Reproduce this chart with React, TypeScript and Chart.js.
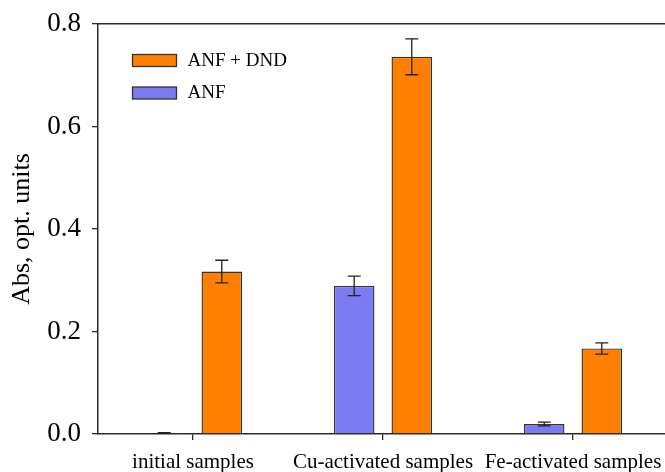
import React, { useEffect, useRef } from "react";
import { Chart, registerables } from "chart.js";

Chart.register(...registerables);

const categories = ["initial samples", "Cu-activated samples", "Fe-activated samples"];
const anfValues = [0.002, 0.289, 0.0195];
const anfErrors = [0.0006, 0.019, 0.0035];
const anfDndValues = [0.317, 0.736, 0.167];
const anfDndErrors = [0.022, 0.035, 0.011];
const yTicks = [0, 0.2, 0.4, 0.6, 0.8];

const seriesNames = ["ANF", "ANF + DND"];
const seriesColors = ["#7b7bf2", "#ff8000"];
const seriesErrors = [anfErrors, anfDndErrors];

const FONT = "'Liberation Serif', 'Times New Roman', serif";
const AXIS_COLOR = "#2a2a2a";

const errorBarPlugin = {
  id: "errorBars",
  afterDatasetsDraw(chart: any) {
    const ctx = chart.ctx;
    const yScale = chart.scales.y;
    ctx.save();
    ctx.strokeStyle = "#222";
    ctx.lineWidth = 1.3;
    chart.data.datasets.forEach((ds: any, di: number) => {
      const meta = chart.getDatasetMeta(di);
      const errs = seriesErrors[di];
      meta.data.forEach((el: any, i: number) => {
        const v = ds.data[i];
        const e = errs[i];
        const x = el.x;
        const yt = yScale.getPixelForValue(v + e);
        const yb = yScale.getPixelForValue(Math.max(0, v - e));
        const cap = 6.5;
        ctx.beginPath();
        ctx.moveTo(x, yt);
        ctx.lineTo(x, yb);
        ctx.moveTo(x - cap, yt);
        ctx.lineTo(x + cap, yt);
        ctx.moveTo(x - cap, yb);
        ctx.lineTo(x + cap, yb);
        ctx.stroke();
      });
    });
    ctx.restore();
  },
};

const legendPlugin = {
  id: "insideLegend",
  afterDraw(chart: any) {
    const ctx = chart.ctx;
    const area = chart.chartArea;
    const order = [1, 0];
    ctx.save();
    ctx.font = `19px ${FONT}`;
    ctx.textBaseline = "middle";
    ctx.textAlign = "left";
    order.forEach((di, k) => {
      const ds = chart.data.datasets[di];
      const bx = area.left + 34.5;
      const by = area.top + 30.5 + k * 32.5;
      ctx.fillStyle = ds.backgroundColor;
      ctx.fillRect(bx, by, 44, 12);
      ctx.strokeStyle = "#333";
      ctx.lineWidth = 1.3;
      ctx.strokeRect(bx, by, 44, 12);
      ctx.fillStyle = "#000";
      ctx.fillText(ds.label, bx + 55, by + 6.5);
    });
    ctx.restore();
  },
};

export default function App() {
  const canvasRef = useRef<HTMLCanvasElement | null>(null);

  useEffect(() => {
    if (!canvasRef.current) return;
    const chart = new Chart(canvasRef.current, {
      type: "bar",
      data: {
        labels: categories,
        datasets: [
          {
            label: seriesNames[0],
            data: anfValues,
            backgroundColor: seriesColors[0],
            borderColor: "#333",
            borderWidth: 1.4,
            categoryPercentage: 0.606,
            barPercentage: 0.704,
          },
          {
            label: seriesNames[1],
            data: anfDndValues,
            backgroundColor: seriesColors[1],
            borderColor: "#333",
            borderWidth: 1.4,
            categoryPercentage: 0.606,
            barPercentage: 0.704,
          },
        ],
      },
      options: {
        responsive: false,
        animation: false,
        layout: { padding: 0 },
        plugins: {
          legend: { display: false },
          tooltip: { enabled: false },
        },
        scales: {
          x: {
            type: "category",
            position: "bottom",
            offset: true,
            grid: {
              display: true,
              offset: false,
              drawOnChartArea: false,
              drawTicks: true,
              tickLength: 6,
              tickColor: AXIS_COLOR,
              lineWidth: 1.3,
            },
            border: { display: true, color: AXIS_COLOR, width: 1.5 },
            ticks: {
              color: "#000",
              padding: 10,
              maxRotation: 0,
              autoSkip: false,
              font: { family: FONT, size: 21 },
            },
            afterFit: (s: any) => {
              s.height = 38;
              s.paddingLeft = 0;
              s.paddingRight = 0;
            },
          },
          xTop: {
            type: "category",
            position: "top",
            grid: { display: false },
            ticks: { display: false },
            border: { display: true, color: AXIS_COLOR, width: 1.5 },
            afterFit: (s: any) => {
              s.height = 24;
              s.paddingLeft = 0;
              s.paddingRight = 0;
            },
          },
          y: {
            type: "linear",
            position: "left",
            min: 0,
            max: 0.8,
            afterBuildTicks: (s: any) => {
              s.ticks = yTicks.map((v) => ({ value: v }));
            },
            grid: {
              display: true,
              drawOnChartArea: false,
              drawTicks: true,
              tickLength: 6,
              tickColor: AXIS_COLOR,
              lineWidth: 1.3,
            },
            border: { display: true, color: AXIS_COLOR, width: 1.5 },
            ticks: {
              color: "#000",
              padding: 11,
              font: { family: FONT, size: 27 },
              callback: (v: any) => Number(v).toFixed(1),
            },
            title: {
              display: true,
              text: "Abs, opt. units",
              color: "#000",
              padding: { top: 7, bottom: 0 },
              font: { family: FONT, size: 26 },
            },
            afterFit: (s: any) => {
              s.width = 98;
              s.paddingTop = 0;
              s.paddingBottom = 0;
            },
          },
        },
      },
      plugins: [errorBarPlugin, legendPlugin],
    });
    return () => chart.destroy();
  }, []);

  return (
    <div
      style={{
        position: "fixed",
        left: 0,
        top: 0,
        width: 665,
        height: 472,
        overflow: "hidden",
        background: "#fff",
      }}
    >
      <canvas ref={canvasRef} width={668} height={472} style={{ display: "block" }} />
    </div>
  );
}
